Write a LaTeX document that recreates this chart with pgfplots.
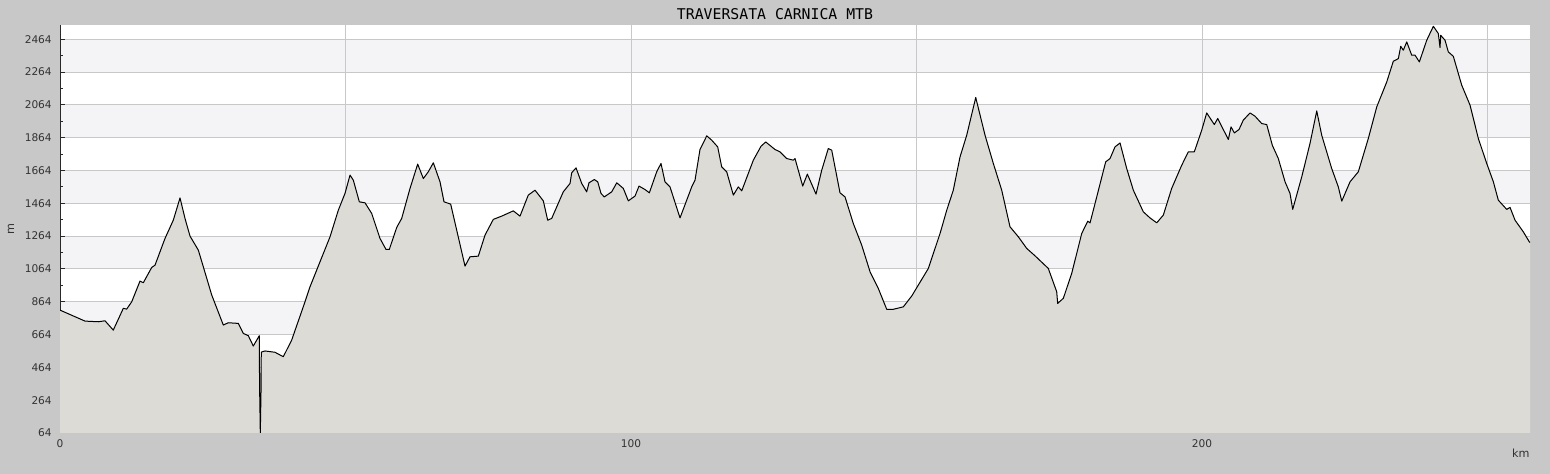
\documentclass[border=0pt]{standalone}
\usepackage{fontspec}
\setmainfont{DejaVu Sans}
\newfontfamily\monofont{DejaVu Sans Mono}
\usepackage{xcolor}
\usepackage{pgfplots}
\usepackage{pgfplotstable}
\pgfplotsset{compat=1.18}

\definecolor{outerbg}{RGB}{200,200,200}
\definecolor{band}{RGB}{244,243,246}
\definecolor{gridc}{RGB}{200,200,200}
\definecolor{areafill}{RGB}{220,219,214}
\definecolor{axisc}{RGB}{40,40,40}
\definecolor{labelc}{RGB}{50,50,50}
\pagecolor{outerbg}

% distance (km) / altitude (m)
\pgfplotstableread{
km m
0 813
4.38 746
6.71 742
7.88 748
9.33 691
11.09 824
11.68 819
12.56 864
14.01 990
14.59 980
16.06 1073
16.64 1087
18.39 1250
19.84 1361
21.02 1497
21.89 1372
22.77 1264
24.22 1179
25.10 1077
26.57 905
28.60 722
29.47 736
31.23 732
32.10 671
32.98 657
33.85 594
34.90 657
34.95 356
35.08 64
35.20 308
35.25 557
35.90 564
37.65 556
39.11 529
40.58 631
42.91 864
43.78 955
45.53 1107
47.29 1260
48.74 1422
49.91 1524
50.79 1636
51.37 1605
52.42 1473
53.42 1467
54.59 1402
56.04 1250
57.09 1183
57.67 1183
58.97 1317
59.84 1372
61.30 1555
62.64 1703
63.63 1615
64.50 1656
65.38 1711
66.55 1595
67.25 1473
68.42 1459
69.47 1301
70.93 1081
71.80 1138
73.26 1142
74.43 1270
75.88 1366
77.36 1386
79.39 1418
80.56 1386
82.01 1514
83.19 1544
84.64 1479
85.41 1361
86.11 1372
88.14 1534
89.32 1585
89.61 1650
90.37 1680
91.37 1585
92.24 1534
92.64 1589
93.57 1609
94.17 1595
94.75 1524
95.32 1503
96.62 1534
97.50 1589
98.65 1555
99.53 1479
100.70 1508
101.40 1569
102.45 1548
103.21 1528
104.50 1656
105.25 1707
105.95 1595
106.83 1564
108.58 1375
110.63 1564
111.21 1605
112.08 1792
113.26 1875
114.13 1849
115.18 1808
115.88 1686
116.76 1656
117.92 1514
118.79 1564
119.39 1540
121.42 1727
122.77 1812
123.59 1838
125.22 1792
126.09 1778
127.27 1737
128.42 1727
128.72 1737
130.07 1569
130.88 1642
132.40 1520
133.40 1666
134.55 1798
135.15 1788
136.60 1528
137.48 1503
138.93 1341
140.40 1209
141.86 1047
143.31 945
144.78 818
145.94 818
147.69 833
149.16 899
152.07 1067
154.12 1280
155.29 1422
156.44 1544
157.62 1747
158.79 1879
160.37 2109
162.00 1879
163.45 1707
164.92 1544
166.37 1321
167.83 1260
169.30 1189
170.75 1144
173.08 1067
174.55 925
174.72 854
175.71 885
177.18 1037
178.93 1280
179.98 1355
180.39 1345
181.56 1503
183.13 1717
183.89 1737
184.76 1808
185.64 1832
186.81 1676
187.97 1544
189.72 1412
190.89 1375
192.07 1345
193.22 1392
194.69 1555
196.44 1696
197.60 1778
198.65 1778
199.95 1910
200.82 2015
202.15 1944
202.75 1981
204.61 1853
205.08 1930
205.66 1893
206.48 1914
207.23 1971
208.41 2015
209.28 1995
210.46 1950
211.33 1944
212.31 1818
213.36 1737
214.54 1595
215.41 1524
215.88 1427
217.46 1625
218.91 1829
220.09 2027
220.96 1879
222.71 1676
223.87 1564
224.47 1477
225.92 1595
227.37 1656
229.12 1859
230.60 2052
232.35 2204
233.50 2330
234.38 2346
234.80 2421
235.25 2397
235.85 2448
236.72 2367
237.30 2367
238.06 2326
239.35 2458
240.51 2543
241.38 2499
241.68 2413
241.80 2488
242.56 2458
243.13 2387
244.01 2360
245.48 2184
246.94 2062
248.39 1859
249.86 1707
251.02 1595
251.89 1483
253.36 1427
253.94 1439
254.82 1361
256.27 1290
257.32 1229
257.44 1225
}\profile

\begin{document}
\begin{tikzpicture}
% 1px = 0.5pt; the grey surround comes from the page colour
\begin{axis}[
    set layers,
    at={(0,0)}, anchor=south west,
    scale only axis,
    width=735pt, height=204pt,
    xmin=0, xmax=257.44,
    ymin=64, ymax=2551,
    axis background/.style={fill=white},
    axis x line*=bottom, axis y line*=left,
    axis line style={axisc, line width=0.5pt},
    xtick={0,50,100,150,200,250},
    xticklabels={0,,100,,200,},
    minor x tick num=4,
    ytick={64,264,...,2464},
    minor y tick num=1,
    tick align=inside,
    major tick length=2.6pt, minor tick length=1.5pt,
    tick style={axisc, line width=0.5pt},
    xmajorgrids, ymajorgrids,
    major grid style={gridc, line width=0.5pt},
    minor tick style={axisc, line width=0.5pt},
    /pgf/number format/assume math mode=true,
    /pgf/number format/1000 sep={},
    ticklabel style={font=\fontsize{5.3}{6}\selectfont, text=labelc},
    yticklabel style={xshift=-0.6pt},
    xticklabel style={yshift=0.3pt},
]
\foreach \lo in {264,664,1064,1464,1864,2264} {
  \pgfmathtruncatemacro{\hi}{\lo+200}
  \edef\temp{\noexpand\addplot[draw=none, fill=band, on layer=axis background, forget plot]
    coordinates {(0,\lo) (257.44,\lo) (257.44,\hi) (0,\hi)};}
  \temp
}
\addplot[draw=none, fill=areafill] table[x=km, y=m] {\profile} \closedcycle;
\addplot[black, line width=0.5pt, line join=round] table[x=km, y=m] {\profile};
\end{axis}
\node[font=\monofont\fontsize{7.4}{8}\selectfont, text=black] at (357.5pt,209.5pt) {TRAVERSATA CARNICA MTB};
\node[font=\fontsize{5.6}{6}\selectfont, text=labelc, rotate=90] at (-24.5pt,102pt) {m};
\node[font=\fontsize{5.6}{6}\selectfont, text=labelc, anchor=east, inner sep=0pt] at (735pt,-10pt) {km};
\pgfresetboundingbox
\useasboundingbox (-30pt,-20.5pt) rectangle (745pt,216.5pt);
\end{tikzpicture}
\end{document}
